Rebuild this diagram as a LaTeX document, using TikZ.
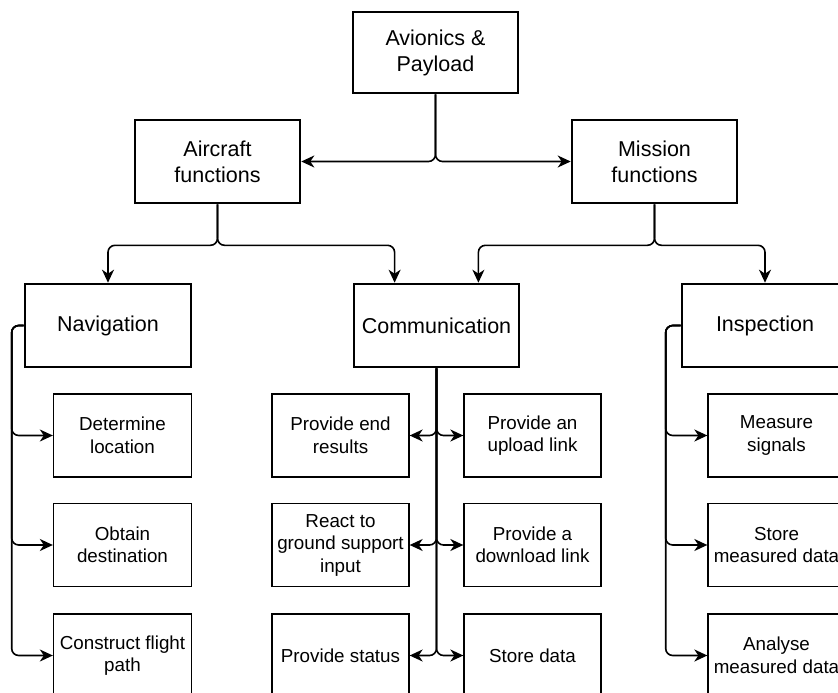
\documentclass[tikz,border=0pt]{standalone}
\usepackage{fontspec}
\setmainfont{Liberation Sans}
\usetikzlibrary{arrows.meta,calc}

\begin{document}
\begin{tikzpicture}[x=1pt,y=-1pt,
  tip/.tip={Stealth[length=13pt,width=12pt,inset=4pt]},
  mainbox/.style={draw=black, line width=2.6pt, fill=white, inner sep=0pt,
    minimum width=165pt, minimum height=83pt, align=center,
    font=\fontsize{21.5}{26}\selectfont},
  subbox/.style={draw=black, line width=1.3pt, fill=white, inner sep=0pt,
    minimum width=137pt, minimum height=83pt, align=center,
    font=\fontsize{18.8}{22.5}\selectfont},
  link/.style={draw=black, line width=1.6pt, -tip},
  softbend/.style={rounded corners=7pt}]

\clip (0,0) rectangle (838,693);
\fill[white] (0,0) rectangle (838,693);

% top level
\node[mainbox, minimum height=81pt] (top) at (435.5,52.5) {Avionics \&\\Payload};

% second level
\node[mainbox] (air) at (217.5,161.5) {Aircraft\\functions};
\node[mainbox] (mis) at (654.5,161.5) {Mission\\functions};

% third level
\node[mainbox, minimum width=166pt] (nav)  at (108,325.5)   {Navigation};
\node[mainbox] (comm) at (436.5,325.5) {Communication};
\node[mainbox, minimum width=166pt] (insp) at (765,325.5)   {Inspection};

% navigation tasks
\node[subbox, minimum width=138pt] (nav1) at (122.5,435.5) {Determine\\location};
\node[subbox, minimum width=138pt] (nav2) at (122.5,545)   {Obtain\\destination};
\node[subbox, minimum width=138pt] (nav3) at (122.5,655.5) {Construct flight\\path};

% communication tasks
\node[subbox] (cl1) at (340.5,435.5) {Provide end\\results};
\node[subbox] (cl2) at (340.5,545)   {React to\\ground support\\input};
\node[subbox] (cl3) at (340.5,655.5) {Provide status};
\node[subbox] (cr1) at (532.5,435.5) {Provide an\\upload link};
\node[subbox] (cr2) at (532.5,545)   {Provide a\\download link};
\node[subbox] (cr3) at (532.5,655.5) {Store data};

% inspection tasks
\node[subbox] (in1) at (776.5,435.5) {Measure\\signals};
\node[subbox] (in2) at (776.5,545)   {Store\\measured data};
\node[subbox] (in3) at (776.5,655.5) {Analyse\\measured data};

% rounded bends only along the wire; the tips stay sharp
% top level split
\draw[link] (top.south) [softbend] |- (air.east) [sharp corners];
\draw[link] (top.south) [softbend] |- (mis.west) [sharp corners];

% aircraft functions split
\coordinate (commA) at ($(comm.north west)!0.25!(comm.north east)$);
\coordinate (commB) at ($(comm.north west)!0.75!(comm.north east)$);
\draw[link] (air.south) [softbend] -- ++(0,41) -| (nav.north) [sharp corners];
\draw[link] (air.south) [softbend] -- ++(0,41) -| (commA) [sharp corners];

% mission functions split
\draw[link] (mis.south) [softbend] -- ++(0,41) -| (commB) [sharp corners];
\draw[link] (mis.south) [softbend] -- ++(0,41) -| (insp.north) [sharp corners];

% navigation branch
\foreach \t in {nav1,nav2,nav3}
  \draw[link] (nav.west) [softbend] -- ++(-12,0) |- (\t.west) [sharp corners];

% communication branch
\foreach \l/\r in {cl1/cr1,cl2/cr2,cl3/cr3}{
  \draw[link] (comm.south) [softbend] |- (\l.east) [sharp corners];
  \draw[link] (comm.south) [softbend] |- (\r.west) [sharp corners];
}

% inspection branch
\foreach \t in {in1,in2,in3}
  \draw[link] (insp.west) [softbend] -- ++(-15,0) |- (\t.west) [sharp corners];

\end{tikzpicture}
\end{document}
